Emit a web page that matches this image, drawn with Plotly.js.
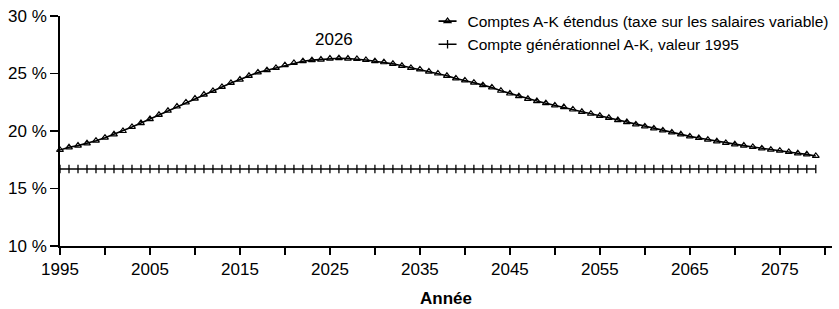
<!DOCTYPE html>
<html>
<head>
<meta charset="utf-8">
<script src="https://cdn.plot.ly/plotly-3.0.1.min.js"></script>
<style>html,body{margin:0;padding:0;background:#fff;}#chart{width:839px;height:309px;}</style>
</head>
<body>
<div id="chart"></div>
<script>
const years = [1995,1996,1997,1998,1999,2000,2001,2002,2003,2004,2005,2006,2007,2008,2009,2010,2011,2012,2013,2014,2015,2016,2017,2018,2019,2020,2021,2022,2023,2024,2025,2026,2027,2028,2029,2030,2031,2032,2033,2034,2035,2036,2037,2038,2039,2040,2041,2042,2043,2044,2045,2046,2047,2048,2049,2050,2051,2052,2053,2054,2055,2056,2057,2058,2059,2060,2061,2062,2063,2064,2065,2066,2067,2068,2069,2070,2071,2072,2073,2074,2075,2076,2077,2078,2079];

const comptesEtendus = [18.35,18.58,18.73,18.93,19.16,19.42,19.71,20.00,20.35,20.69,21.04,21.41,21.76,22.13,22.48,22.82,23.17,23.49,23.83,24.18,24.47,24.80,25.09,25.29,25.49,25.72,25.92,26.07,26.16,26.21,26.30,26.33,26.30,26.27,26.18,26.07,25.98,25.84,25.67,25.49,25.35,25.17,25.00,24.80,24.57,24.40,24.20,23.99,23.79,23.50,23.26,23.03,22.80,22.60,22.42,22.22,22.08,21.87,21.67,21.50,21.32,21.15,20.95,20.78,20.57,20.40,20.22,20.05,19.88,19.71,19.53,19.39,19.25,19.10,18.96,18.84,18.73,18.61,18.49,18.38,18.29,18.18,18.06,17.97,17.83];

const compteGen1995 = [16.7,16.7,16.7,16.7,16.7,16.7,16.7,16.7,16.7,16.7,16.7,16.7,16.7,16.7,16.7,16.7,16.7,16.7,16.7,16.7,16.7,16.7,16.7,16.7,16.7,16.7,16.7,16.7,16.7,16.7,16.7,16.7,16.7,16.7,16.7,16.7,16.7,16.7,16.7,16.7,16.7,16.7,16.7,16.7,16.7,16.7,16.7,16.7,16.7,16.7,16.7,16.7,16.7,16.7,16.7,16.7,16.7,16.7,16.7,16.7,16.7,16.7,16.7,16.7,16.7,16.7,16.7,16.7,16.7,16.7,16.7,16.7,16.7,16.7,16.7,16.7,16.7,16.7,16.7,16.7,16.7,16.7,16.7,16.7,16.7];

const seriesNames = ["Comptes A-K étendus (taxe sur les salaires variable)", "Compte générationnel A-K, valeur 1995"];
const xTickVals = [1995,2000,2005,2010,2015,2020,2025,2030,2035,2040,2045,2050,2055,2060,2065,2070,2075,2080];
const xTickText = ["1995","","2005","","2015","","2025","","2035","","2045","","2055","","2065","","2075",""];
const yTickVals = [10,15,20,25,30];
const yTickText = ["10 %","15 %","20 %","25 %","30 %"];
const peakYear = 2026;
const peakLabel = "2026";

const font = "Liberation Sans, Arial, Helvetica, sans-serif";

const traces = [
  {
    x: years, y: comptesEtendus, name: seriesNames[0], type: 'scatter', mode: 'lines+markers',
    line: {color: '#000', width: 1.6},
    marker: {symbol: 'triangle-up-open', size: 6, color: '#000', line: {width: 1.2, color: '#000'}},
    cliponaxis: false
  },
  {
    x: years, y: compteGen1995, name: seriesNames[1], type: 'scatter', mode: 'lines+markers',
    line: {color: '#000', width: 1.6},
    marker: {symbol: 'line-ns-open', size: 6, color: '#000', line: {width: 1.3, color: '#000'}},
    cliponaxis: false
  }
];

const peakIdx = years.indexOf(peakYear);

const layout = {
  width: 839, height: 309,
  margin: {l: 60, r: 5, t: 15, b: 63},
  paper_bgcolor: '#fff', plot_bgcolor: '#fff',
  font: {family: font, color: '#000', size: 17},
  showlegend: true,
  legend: {
    x: 1.002, xanchor: 'right', y: 1.05, yanchor: 'top',
    font: {family: font, size: 15.5, color: '#000'},
    bgcolor: 'rgba(0,0,0,0)', itemwidth: 30, tracegroupgap: 0,
    itemclick: false
  },
  xaxis: {
    range: [1995, 2080.8], showgrid: false, zeroline: false,
    showline: true, linecolor: '#000', linewidth: 1.8,
    ticks: 'outside', ticklen: 7, tickwidth: 1.5, tickcolor: '#000',
    tickvals: xTickVals, ticktext: xTickText,
    tickfont: {family: font, size: 17, color: '#000'},
    title: {text: '<b>Année</b>', font: {family: font, size: 17, color: '#000'}, standoff: 14}
  },
  yaxis: {
    range: [10, 30], showgrid: false, zeroline: false,
    showline: true, linecolor: '#000', linewidth: 1.8,
    ticks: 'outside', ticklen: 8, tickwidth: 1.5, tickcolor: '#000',
    tickvals: yTickVals, ticktext: yTickText,
    tickfont: {family: font, size: 17, color: '#000'}
  },
  annotations: [
    {x: peakYear, y: comptesEtendus[peakIdx], xref: 'x', yref: 'y', text: peakLabel,
     showarrow: false, yshift: 19, xshift: -5, font: {family: font, size: 17, color: '#000'}}
  ]
};

Plotly.newPlot('chart', traces, layout, {displayModeBar: false, staticPlot: true}).then(function(gd){
  // shorten legend sample lines to match the reference's short symbol
  gd.querySelectorAll('.legend .legendlines path').forEach(function(p){ p.setAttribute('d', 'M11,0h18'); });
});
</script>
</body>
</html>
